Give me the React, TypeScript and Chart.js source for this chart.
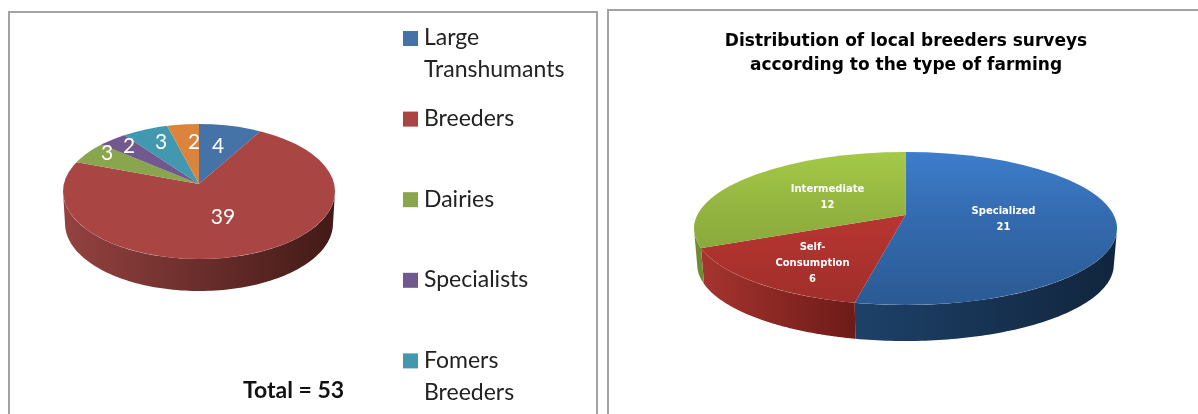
import React, { useEffect, useRef } from "react";
import { Chart, registerables } from "chart.js";

Chart.register(...registerables);

// ---- data ----
const farmerCategories = ["Large Transhumants", "Breeders", "Dairies", "Specialists", "Fomers Breeders", "Others"];
const farmerValues = [4, 39, 3, 2, 3, 2];
const farmerColors = ["#4572a7", "#a94543", "#89a54e", "#71588f", "#4198af", "#db843d"];
const farmerWalls = [["#2f4f75", "#2f4f75"], ["#944240", "#421a17"], ["#5f7336", "#5f7336"], ["#4f3d64", "#4f3d64"], ["#2d6a7a", "#2d6a7a"], ["#99602b", "#99602b"]];
const legendLines = [["Large", "Transhumants"], ["Breeders"], ["Dairies"], ["Specialists"], ["Fomers", "Breeders"]];
const totalLabel = "Total = 53";

const farmingCategories = ["Specialized", "Self-Consumption", "Intermediate"];
const farmingValues = [21, 6, 12];
const farmingTopColors = [["#3d7dcc", "#2b5a94"], ["#d23d39", "#9f2e2a"], ["#a5c948", "#7d9c36"]];
const farmingWalls = [["#1d4169", "#11253d"], ["#a6342f", "#6d1b18"], ["#6f8c33", "#6f8c33"]];
const farmingLabelLines = [["Specialized", "21"], ["Self-", "Consumption", "6"], ["Intermediate", "12"]];
const farmingTitle = ["Distribution of local breeders surveys", "according to the type of farming"];

const OVERSCAN = 1.3;

// Draws the pie as a tilted disc: extruded wall, then the library's own arcs, squashed and clipped.
const pie3d = {
  id: "pie3d",
  beforeDatasetsDraw(chart: any, _args: any, o: any) {
    const meta = chart.getDatasetMeta(0);
    const ctx = chart.ctx;
    const arcs = meta.data;
    const R = arcs[0].outerRadius;
    const ox = arcs[0].x;
    const oy = arcs[0].y;
    const { cx, cy, rx, ry, apexY, depth, bottomScale } = o;
    const ryBack = apexY - (cy - ry);
    const ryFront = cy + ry - apexY;

    const rim = (a: number) => {
      const dx = Math.cos(a) * rx;
      const dy = Math.sin(a) * (Math.sin(a) < 0 ? ryBack : ryFront);
      const oyy = apexY - cy;
      const A = (dx * dx) / (rx * rx) + (dy * dy) / (ry * ry);
      const B = (2 * oyy * dy) / (ry * ry);
      const C = (oyy * oyy) / (ry * ry) - 1;
      const t = (-B + Math.sqrt(B * B - 4 * A * C)) / (2 * A);
      return { x: cx + t * dx, y: apexY + t * dy };
    };

    // wall
    arcs.forEach((arc: any, i: number) => {
      const pts: { x: number; y: number }[] = [];
      const N = 160;
      for (let s = 0; s <= N; s++) {
        const p = rim(arc.startAngle + ((arc.endAngle - arc.startAngle) * s) / N);
        if (p.y >= cy) pts.push(p);
      }
      if (pts.length < 2) return;
      const xs = pts.map((p) => p.x);
      const g = ctx.createLinearGradient(Math.min(...xs), 0, Math.max(...xs), 0);
      g.addColorStop(0, o.walls[i][0]);
      g.addColorStop(1, o.walls[i][1]);
      ctx.beginPath();
      pts.forEach((p, k) => (k ? ctx.lineTo(p.x, p.y) : ctx.moveTo(p.x, p.y)));
      for (let k = pts.length - 1; k >= 0; k--) {
        const p = pts[k];
        ctx.lineTo(cx + (p.x - cx) * bottomScale, p.y + depth);
      }
      ctx.closePath();
      ctx.fillStyle = g;
      ctx.fill();
    });

    // top face: the controller's arcs drawn twice, back half and front half
    [
      { ry2: ryBack, y: cy - ry - 2, h: apexY - (cy - ry) + 2 },
      { ry2: ryFront, y: apexY, h: ryFront + 2 },
    ].forEach((half) => {
      ctx.save();
      ctx.beginPath();
      ctx.ellipse(cx, cy, rx, ry, 0, 0, Math.PI * 2);
      ctx.clip();
      ctx.beginPath();
      ctx.rect(cx - rx - 2, half.y, 2 * rx + 4, half.h);
      ctx.clip();
      ctx.translate(cx, apexY);
      ctx.scale((OVERSCAN * rx) / R, (OVERSCAN * half.ry2) / R);
      ctx.translate(-ox, -oy);
      meta.controller.draw();
      ctx.restore();
    });

    // value labels
    ctx.save();
    ctx.fillStyle = "#ffffff";
    ctx.textAlign = "center";
    ctx.textBaseline = "middle";
    ctx.font = o.labelFont;
    o.labels.forEach((lines: string[], i: number) => {
      const [dx, dy] = o.labelOffsets[i];
      lines.forEach((t, k) => {
        ctx.fillText(t, cx + dx, apexY + dy + (k - (lines.length - 1) / 2) * o.labelLine);
      });
    });
    ctx.restore();
    return false;
  },
};

const sideLegend = {
  id: "sideLegend",
  afterDraw(chart: any, _a: any, o: any) {
    if (!o.lines) return;
    const ctx = chart.ctx;
    ctx.save();
    ctx.textBaseline = "middle";
    ctx.textAlign = "left";
    ctx.font = o.font;
    o.lines.forEach((lines: string[], i: number) => {
      const y = o.y + i * o.step;
      ctx.fillStyle = chart.data.datasets[0].backgroundColor[i];
      ctx.fillRect(o.x, y - 7, 15, 15);
      ctx.fillStyle = o.color;
      lines.forEach((t, k) => ctx.fillText(t, o.x + 21, y + k * o.lineGap));
    });
    ctx.font = o.totalFont;
    ctx.fillStyle = "#111111";
    ctx.fillText(o.total, o.totalX, o.totalY);
    ctx.restore();
  },
};

function useChart(make: (c: HTMLCanvasElement) => Chart) {
  const ref = useRef<HTMLCanvasElement>(null);
  useEffect(() => {
    const ch = make(ref.current as HTMLCanvasElement);
    return () => ch.destroy();
  }, []);
  return ref;
}

export default function App() {
  const leftRef = useChart(
    (c) =>
      new Chart(c, {
        type: "pie",
        data: {
          labels: farmerCategories,
          datasets: [{ data: farmerValues, backgroundColor: farmerColors, borderWidth: 0 }],
        },
        plugins: [pie3d, sideLegend],
        options: {
          responsive: false,
          animation: false,
          events: [],
          plugins: {
            legend: { display: false },
            tooltip: { enabled: false },
            pie3d: {
              cx: 199, cy: 191.5, rx: 136, ry: 67.5, apexY: 184, depth: 32, bottomScale: 0.985,
              walls: farmerWalls,
              labels: farmerValues.map((v) => [String(v)]),
              labelOffsets: [[19, -38], [24, 33], [-92, -31], [-70, -38], [-38, -42], [-5, -42]],
              labelFont: "21px Lato",
              labelLine: 16,
            },
            sideLegend: {
              lines: legendLines, x: 403, y: 38, step: 80.6, lineGap: 32, font: "23px Lato", color: "#222222",
              total: totalLabel, totalX: 243, totalY: 391, totalFont: "bold 23px Lato",
            },
          } as any,
        },
      } as any)
  );

  const rightRef = useChart(
    (c) =>
      new Chart(c, {
        type: "pie",
        data: {
          labels: farmingCategories,
          datasets: [
            {
              data: farmingValues,
              borderWidth: 0,
              backgroundColor: (k: any) => {
                const pair = farmingTopColors[k.dataIndex] || farmingTopColors[0];
                const area = k.chart.chartArea;
                if (!area) return pair[0];
                const my = (area.top + area.bottom) / 2;
                const R = Math.min(area.right - area.left, area.bottom - area.top) / 2;
                const g = k.chart.ctx.createLinearGradient(0, my - R / OVERSCAN, 0, my + R / OVERSCAN);
                g.addColorStop(0, pair[0]);
                g.addColorStop(1, pair[1]);
                return g;
              },
            },
          ],
        },
        plugins: [pie3d],
        options: {
          responsive: false,
          animation: false,
          events: [],
          plugins: {
            legend: { display: false },
            tooltip: { enabled: false },
            title: {
              display: true,
              text: farmingTitle,
              color: "#000000",
              font: { family: "DejaVu Sans", size: 17, weight: "bold", lineHeight: 1.41 },
              padding: { top: 30, bottom: 0 },
            },
            pie3d: {
              cx: 291.5, cy: 228.5, rx: 211.5, ry: 76.5, apexY: 215, depth: 36, bottomScale: 0.985,
              walls: farmingWalls,
              labels: farmingLabelLines,
              labelOffsets: [[98, 4], [-93, 48], [-78, -18]],
              labelFont: "bold 10px 'DejaVu Sans'",
              labelLine: 16,
            },
          } as any,
        },
      } as any)
  );

  const border = "2px solid #a3a3a3";
  return (
    <div style={{ position: "fixed", left: 0, top: 0, width: 1198, height: 414, overflow: "hidden", background: "#fff" }}>
      <div style={{ position: "absolute", left: 8, top: 11, width: 590, height: 420, border, boxSizing: "border-box" }} />
      <div style={{ position: "absolute", left: 607, top: 9, width: 620, height: 420, border, boxSizing: "border-box" }} />
      <canvas ref={leftRef} width={596} height={414} style={{ position: "absolute", left: 0, top: 0, width: 596, height: 414 }} />
      <canvas ref={rightRef} width={584} height={414} style={{ position: "absolute", left: 614, top: 0, width: 584, height: 414 }} />
    </div>
  );
}
